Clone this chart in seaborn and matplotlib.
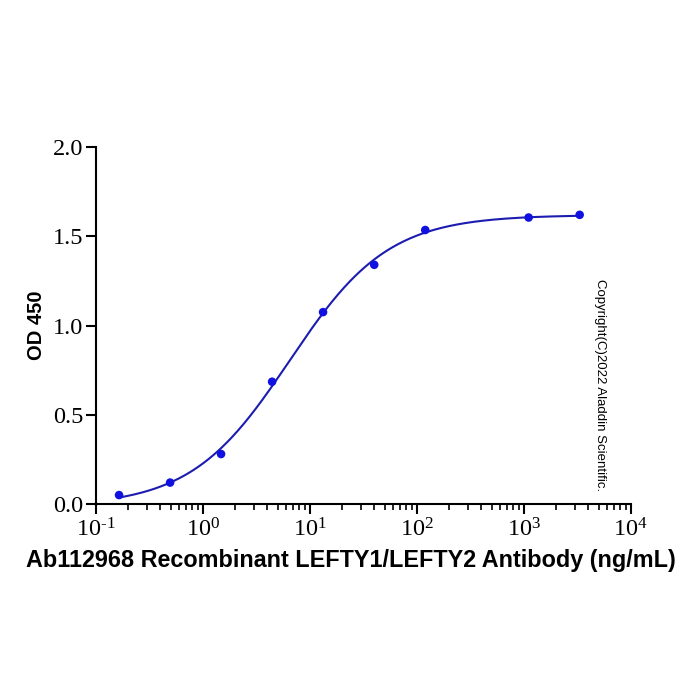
import numpy as np
import pandas as pd
import matplotlib
matplotlib.use('Agg')
import matplotlib.pyplot as plt
import matplotlib.ticker as mticker
import seaborn as sns

# Data
conc = [0.1646, 0.494, 1.48, 4.44, 13.3, 40.0, 120.0, 1111.0, 3333.0]
od450 = [0.05, 0.12, 0.28, 0.685, 1.075, 1.34, 1.535, 1.605, 1.62]

x_label = 'Ab112968 Recombinant LEFTY1/LEFTY2 Antibody (ng/mL)'
y_label = 'OD 450'
copyright_text = 'Copyright(C)2022 Aladdin Scientific.'


def fit_4pl(x, y):
    """Grid search over EC50 / Hill slope, linear solve for bottom/top"""
    x = np.asarray(x, float)
    y = np.asarray(y, float)
    best = None
    for log_c in np.linspace(-1, 3, 401):
        c = 10 ** log_c
        for h in np.linspace(0.3, 2.5, 221):
            f = 1.0 / (1.0 + (c / x) ** h)
            A = np.column_stack([1 - f, f])
            coef, *_ = np.linalg.lstsq(A, y, rcond=None)
            err = np.sum((A @ coef - y) ** 2)
            if best is None or err < best[0]:
                best = (err, c, h, coef[0], coef[1])
    _, c, h, bottom, top = best
    return lambda xx: bottom + (top - bottom) / (1.0 + (c / xx) ** h)


def pow10_label(v, pos):
    e = int(round(np.log10(v)))
    if e < 0:
        return r'$\mathregular{10^{\text{-}%d}}$' % abs(e)
    return r'$\mathregular{10^{%d}}$' % e


sns.set_theme(style='ticks')
plt.rcParams['font.family'] = ['Liberation Serif', 'DejaVu Serif']
plt.rcParams['mathtext.fontset'] = 'custom'
plt.rcParams['mathtext.rm'] = 'Liberation Serif'
plt.rcParams['axes.unicode_minus'] = False
plt.rcParams['text.color'] = 'black'
plt.rcParams['axes.labelcolor'] = 'black'

df = pd.DataFrame({'conc': conc, 'od': od450})
model = fit_4pl(conc, od450)
xs = np.logspace(np.log10(min(conc)), np.log10(max(conc)), 300)
curve = pd.DataFrame({'conc': xs, 'od': model(xs)})

fig = plt.figure(figsize=(7, 7), dpi=100)
ax = fig.add_axes([0.137, 0.28, 0.764, 0.51])

sns.lineplot(data=curve, x='conc', y='od', ax=ax, color='#1c1cb0', linewidth=1.5)
sns.scatterplot(data=df, x='conc', y='od', ax=ax, color='#1010e0', s=38,
                edgecolor='none', zorder=3)

ax.set_xscale('log')
ax.set_xlim(0.1, 1e4)
ax.set_ylim(0, 2.0)
ax.set_yticks([0.0, 0.5, 1.0, 1.5, 2.0])
ax.yaxis.set_major_formatter(mticker.FormatStrFormatter('%.1f'))
ax.xaxis.set_major_locator(mticker.LogLocator(base=10, numticks=10))
ax.xaxis.set_major_formatter(mticker.FuncFormatter(pow10_label))
ax.xaxis.set_minor_locator(mticker.LogLocator(base=10, subs=np.arange(2, 10), numticks=20))
ax.xaxis.set_minor_formatter(mticker.NullFormatter())

for s in ['top', 'right']:
    ax.spines[s].set_visible(False)
for s in ['left', 'bottom']:
    ax.spines[s].set_linewidth(1.5)
    ax.spines[s].set_color('black')

ax.tick_params(axis='both', which='major', length=7, width=1.5, labelsize=17.5,
               colors='black', pad=2)
ax.tick_params(axis='x', which='major', pad=3)
ax.tick_params(axis='x', which='minor', length=4, width=1.2, colors='black')

ax.set_xlabel(x_label, fontsize=16.8, fontweight='bold', family='Liberation Sans',
              color='black')
ax.xaxis.set_label_coords(0.477, -0.127)
ax.set_ylabel(y_label, fontsize=14.5, fontweight='bold', family='Liberation Sans',
              color='black')
ax.yaxis.set_label_coords(-0.093, 0.5)

fig.text(0.857, 0.45, copyright_text, rotation=-90, ha='center', va='center',
         fontsize=9.5, family='Liberation Sans', color='black')

fig.savefig('out.png', dpi=100, facecolor='white')
